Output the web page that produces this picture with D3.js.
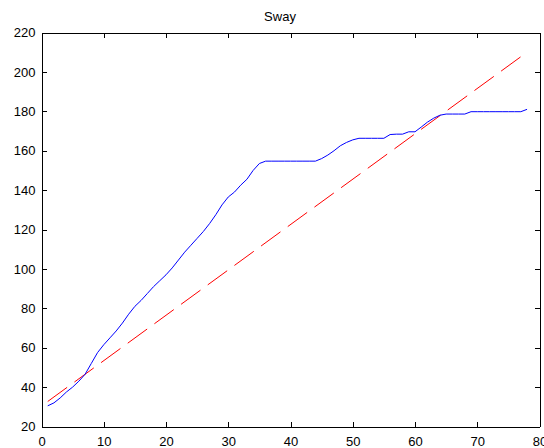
<!DOCTYPE html>
<html>
<head>
<meta charset="utf-8">
<script src="https://cdn.jsdelivr.net/npm/d3@7"></script>
<style>
  html, body { margin: 0; padding: 0; background: #fff; }
  svg { display: block; }
  .axis text { font-family: 'Liberation Sans', Arial, sans-serif; font-size: 13px; fill: #000; }
  .axis path, .axis line { stroke: #000; shape-rendering: crispEdges; }
</style>
</head>
<body>
<div id="chart"></div>
<script>
// Sway — measured curve (blue) vs linear reference (red dashed)
const swayX = d3.range(1, 79);
const swayY = [
    30.5, 32, 34.5, 37.5, 40, 43, 46.5, 52, 57.5, 61.5,
    65, 68.5, 72.5, 77, 81, 84, 87.5, 91, 94, 97,
    100.5, 104.5, 108.5, 112, 115.5, 119, 123, 127.5, 132.5, 136.5,
    139, 142.5, 145.5, 150, 153.5, 154.7, 154.7, 154.7, 154.7, 154.7,
    154.7, 154.7, 154.7, 154.7, 156, 157.8, 160, 162.5, 164.2, 165.5,
    166.3, 166.3, 166.3, 166.3, 166.3, 168.2, 168.4, 168.4, 169.6, 169.6,
    172, 174.5, 176.5, 178, 178.6, 178.6, 178.6, 178.6, 179.8, 179.8,
    179.8, 179.8, 179.8, 179.8, 179.8, 179.8, 179.8, 181
];
const refX = [1, 78];
const refY = [32.7, 210];

const xTicks = [0, 10, 20, 30, 40, 50, 60, 70, 80];
const yTicks = [20, 40, 60, 80, 100, 120, 140, 160, 180, 200, 220];

const width = 544, height = 448;
const plotLeft = 41.5, plotRight = 539.5, plotTop = 32.5, plotBottom = 426.5;

const svg = d3.select('#chart')
    .append('svg')
    .attr('width', width)
    .attr('height', height);

const x = d3.scaleLinear().domain([0, 80]).range([plotLeft, plotRight]);
const y = d3.scaleLinear().domain([20, 220]).range([plotBottom, plotTop]);

// Lines (drawn first, axes on top)
const line = d3.line()
    .x(d => x(d[0]))
    .y(d => y(d[1]));

svg.append('path')
    .datum(refX.map((v, i) => [v, refY[i]]))
    .attr('d', line)
    .attr('fill', 'none')
    .attr('stroke', '#ff0000')
    .attr('stroke-width', 1)
    .attr('stroke-dasharray', '24 9');

svg.append('path')
    .datum(swayX.map((v, i) => [v, swayY[i]]))
    .attr('d', line)
    .attr('fill', 'none')
    .attr('stroke', '#0000ff')
    .attr('stroke-width', 1);

// Axes: ticks point inward, mirrored on top/right
svg.append('g')
    .attr('class', 'axis')
    .attr('transform', `translate(0,${plotBottom})`)
    .call(d3.axisBottom(x).tickValues(xTicks).tickSize(-5).tickSizeOuter(0).tickPadding(10));

svg.append('g')
    .attr('class', 'axis')
    .attr('transform', `translate(${plotLeft},0)`)
    .call(d3.axisLeft(y).tickValues(yTicks).tickSize(-5).tickSizeOuter(0).tickPadding(6));

svg.append('g')
    .attr('class', 'axis')
    .attr('transform', `translate(0,${plotTop})`)
    .call(d3.axisTop(x).tickValues(xTicks).tickSize(-5).tickSizeOuter(0).tickFormat(''));

svg.append('g')
    .attr('class', 'axis')
    .attr('transform', `translate(${plotRight},0)`)
    .call(d3.axisRight(y).tickValues(yTicks).tickSize(-5).tickSizeOuter(0).tickFormat(''));

svg.selectAll('.axis').attr('font-family', null).attr('font-size', null);

// Title
svg.append('text')
    .attr('x', 280)
    .attr('y', 21)
    .attr('text-anchor', 'middle')
    .attr('font-family', "'Liberation Sans', Arial, sans-serif")
    .attr('font-size', '13px')
    .attr('fill', '#000')
    .text('Sway');
</script>
</body>
</html>
